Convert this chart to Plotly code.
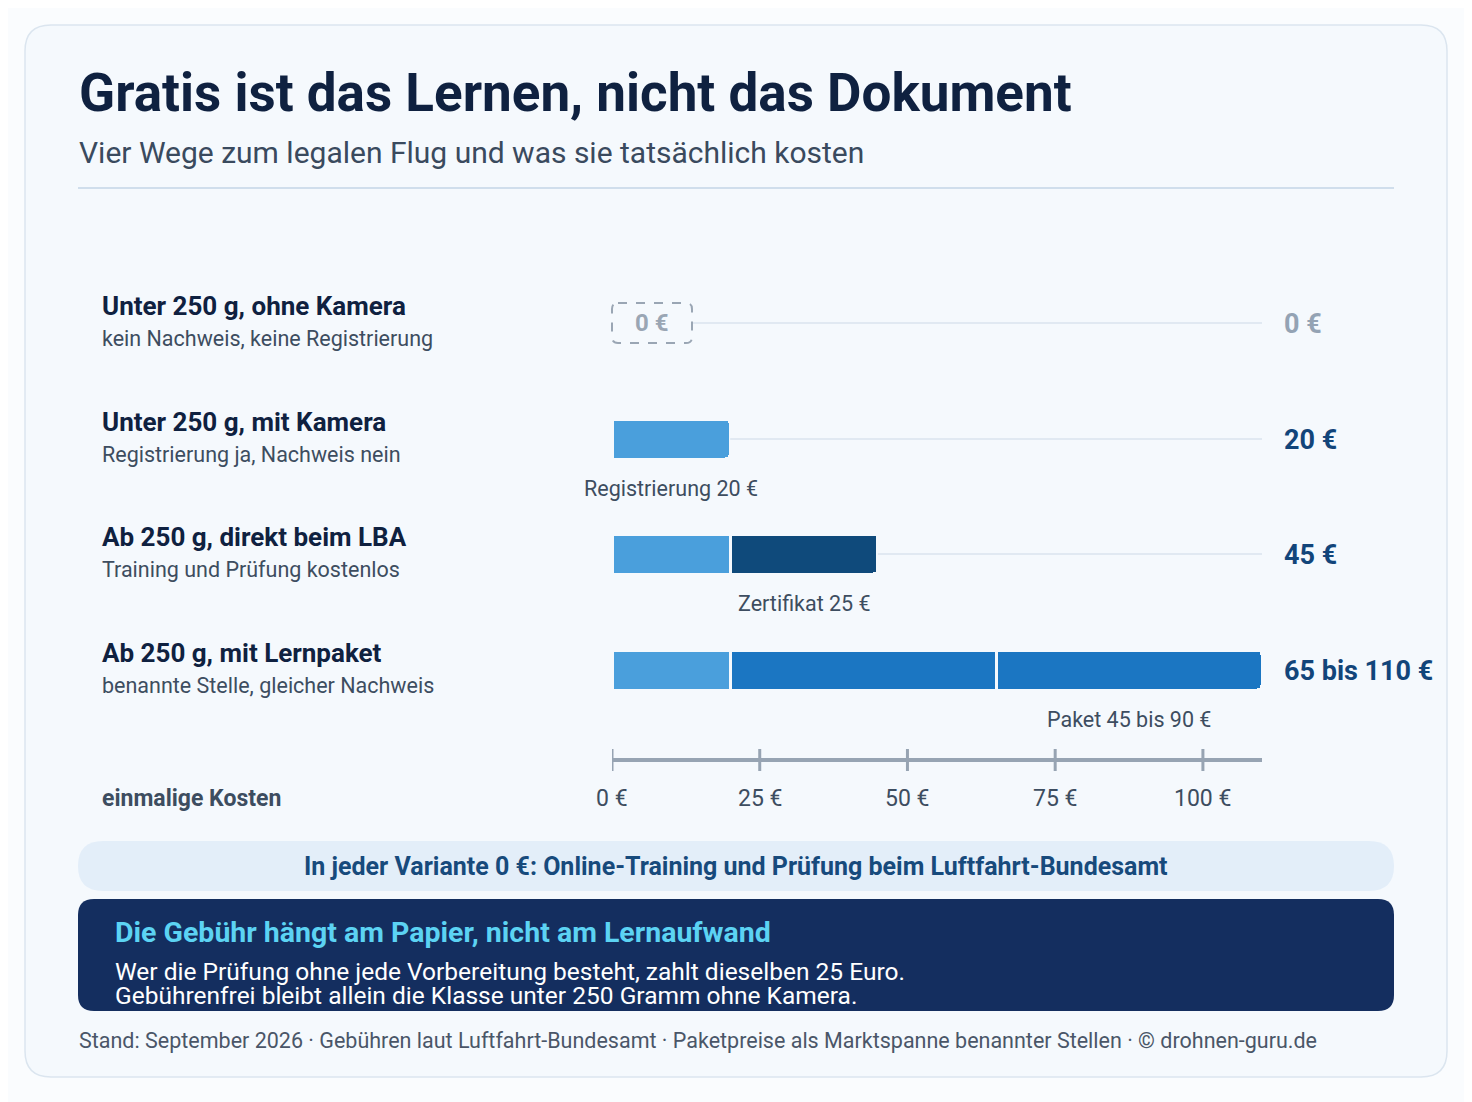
import plotly.graph_objects as go

W, H = 1472, 1102
OFF = 8  # page margin the browser adds around the figure

# data
titles = ["Unter 250 g, ohne Kamera", "Unter 250 g, mit Kamera", "Ab 250 g, direkt beim LBA", "Ab 250 g, mit Lernpaket"]
subtitles = ["kein Nachweis, keine Registrierung", "Registrierung ja, Nachweis nein",
             "Training und Prüfung kostenlos", "benannte Stelle, gleicher Nachweis"]
totals = ["0 €", "20 €", "45 €", "65 bis 110 €"]
registrierung = [0, 20, 20, 20]
zertifikat = [0, 0, 25, 0]
paket_min = [0, 0, 0, 45]
paket_extra = [0, 0, 0, 45]
seg_notes = ["", "Registrierung 20 €", "Zertifikat 25 €", "Paket 45 bis 90 €"]
ticks = [0, 25, 50, 75, 100]
tick_labels = ["0 €", "25 €", "50 €", "75 €", "100 €"]

row_y = [323, 439, 554, 670]
X0, X1 = 612, 1262
XMAX = 110
FONT = "Roboto"
DARK = "#0f2140"
GREY = "#3d4d60"


def rrect(x0, y0, x1, y1, r):
    return (f"M{x0+r},{y0} L{x1-r},{y0} Q{x1},{y0} {x1},{y0+r} L{x1},{y1-r} Q{x1},{y1} {x1-r},{y1} "
            f"L{x0+r},{y1} Q{x0},{y1} {x0},{y1-r} L{x0},{y0+r} Q{x0},{y0} {x0+r},{y0} Z")


def px_path(x0, y0, x1, y1, r):
    # rounded rect in paper coordinates
    fx = lambda v: (v - OFF) / W
    fy = lambda v: 1 - (v - OFF) / H
    rx, ry = r / W, r / H
    a, b, c, d = fx(x0), fy(y0), fx(x1), fy(y1)
    return (f"M{a+rx},{b} L{c-rx},{b} Q{c},{b} {c},{b-ry} L{c},{d+ry} Q{c},{d} {c-rx},{d} "
            f"L{a+rx},{d} Q{a},{d} {a},{d+ry} L{a},{b-ry} Q{a},{b} {a+rx},{b} Z")


fig = go.Figure()

# track lines
for i, y in enumerate(row_y):
    end = registrierung[i] + zertifikat[i] + paket_min[i] + paket_extra[i]
    fig.add_trace(go.Scatter(x=[end, XMAX], y=[y, y], mode="lines",
                             line=dict(color="#e1e9f2", width=2), hoverinfo="skip", showlegend=False))

bar_kw = dict(orientation="h", width=40, hoverinfo="skip", showlegend=False,
              marker_line=dict(color="#f5f9fd", width=3))
fig.add_trace(go.Bar(y=row_y, x=registrierung, marker_color="#4a9fdc", **bar_kw))
fig.add_trace(go.Bar(y=row_y, x=zertifikat, marker_color="#0f4a7b", **bar_kw))
fig.add_trace(go.Bar(y=row_y, x=paket_min, marker_color="#1b76c2", **bar_kw))
fig.add_trace(go.Bar(y=row_y, x=paket_extra, marker_color="#1b76c2", **bar_kw))

shapes = []
ann = []
# card
shapes.append(dict(type="path", path=px_path(25, 25, 1447, 1077, 26), xref="paper", yref="paper",
                   fillcolor="#f5f9fd", line=dict(color="#dbe5ef", width=1.5), layer="below"))
shapes.append(dict(type="line", x0=78, x1=1394, y0=188, y1=188, xref="x2", yref="y2",
                   line=dict(color="#d0deec", width=2)))
ann.append(dict(x=77, y=93, text="<b>Gratis ist das Lernen, nicht das Dokument</b>", xanchor="left",
                font=dict(size=53, color=DARK, family=FONT)))
ann.append(dict(x=77, y=152, text="Vier Wege zum legalen Flug und was sie tatsächlich kosten", xanchor="left",
                font=dict(size=30, color="#3a4a5e", family=FONT)))

for i, y in enumerate(row_y):
    ann.append(dict(x=100, y=y - 17, text=f"<b>{titles[i]}</b>", xanchor="left",
                    font=dict(size=26, color=DARK, family=FONT)))
    ann.append(dict(x=100, y=y + 15, text=subtitles[i], xanchor="left",
                    font=dict(size=21.5, color=GREY, family=FONT)))
    col = "#94a3b4" if i == 0 else "#12457a"
    ann.append(dict(x=1282, y=y + 1, text=f"<b>{totals[i]}</b>", xanchor="left",
                    font=dict(size=27, color=col, family=FONT)))

# segment notes, centred on the segment they describe
note_centres = [0, registrierung[1] / 2, registrierung[2] + zertifikat[2] / 2,
                registrierung[3] + paket_min[3] + paket_extra[3] / 2]
for i in range(1, 4):
    px = X0 + note_centres[i] * (X1 - X0) / XMAX
    ann.append(dict(x=px, y=row_y[i] + 49, text=seg_notes[i],
                    font=dict(size=21.5, color=GREY, family=FONT)))

# dashed 0 € box
shapes.append(dict(type="path", path=rrect(612, 303, 692, 343, 6), xref="x2", yref="y2",
                   fillcolor="#f5f9fd", line=dict(color="#9aa6b4", width=2, dash="dash")))
ann.append(dict(x=652, y=323, text="<b>0 €</b>", font=dict(size=24, color="#9aa6b4", family=FONT)))

# axis
shapes.append(dict(type="line", x0=0, x1=XMAX, y0=760, y1=760, xref="x", yref="y",
                   line=dict(color="#97a4b3", width=4)))
for t, lab in zip(ticks, tick_labels):
    shapes.append(dict(type="line", x0=t, x1=t, y0=749, y1=771, xref="x", yref="y",
                       line=dict(color="#97a4b3", width=3)))
    ann.append(dict(x=t, y=798, text=lab, xref="x", yref="y",
                    font=dict(size=23, color=GREY, family=FONT)))
ann.append(dict(x=100, y=798, text="<b>einmalige Kosten</b>", xanchor="left",
                font=dict(size=23, color=GREY, family=FONT)))

# info pill
shapes.append(dict(type="path", path=rrect(78, 841, 1394, 891, 25), xref="x2", yref="y2",
                   fillcolor="#e3eef9", line=dict(width=0)))
ann.append(dict(x=736, y=866, text="<b>In jeder Variante 0 €: Online-Training und Prüfung beim Luftfahrt-Bundesamt</b>",
                font=dict(size=25, color="#174a7c", family=FONT)))

# dark box
shapes.append(dict(type="path", path=rrect(78, 899, 1394, 1011, 16), xref="x2", yref="y2",
                   fillcolor="#142e5f", line=dict(width=0)))
ann.append(dict(x=113, y=932, text="<b>Die Gebühr hängt am Papier, nicht am Lernaufwand</b>", xanchor="left",
                font=dict(size=28.5, color="#5cd3f3", family=FONT)))
ann.append(dict(x=113, y=971, text="Wer die Prüfung ohne jede Vorbereitung besteht, zahlt dieselben 25 Euro.",
                xanchor="left", font=dict(size=24.5, color="white", family=FONT)))
ann.append(dict(x=113, y=995, text="Gebührenfrei bleibt allein die Klasse unter 250 Gramm ohne Kamera.",
                xanchor="left", font=dict(size=24.5, color="white", family=FONT)))

ann.append(dict(x=77, y=1040, xanchor="left",
                text="Stand: September 2026 · Gebühren laut Luftfahrt-Bundesamt · Paketpreise als Marktspanne benannter Stellen · © drohnen-guru.de",
                font=dict(size=21.5, color="#4a5668", family=FONT)))

for a in ann:
    a.setdefault("xref", "x2")
    a.setdefault("yref", "y2")
    a.update(showarrow=False, yanchor="middle")
    a.setdefault("xanchor", "center")

fig.update_layout(
    width=W, height=H, margin=dict(l=0, r=0, t=0, b=0),
    paper_bgcolor="#fafcfe", plot_bgcolor="rgba(0,0,0,0)",
    barmode="stack", barcornerradius=5,
    xaxis=dict(range=[0, XMAX], domain=[(X0 - OFF) / W, (X1 - OFF) / W], visible=False, fixedrange=True, anchor="y"),
    yaxis=dict(range=[H + OFF, OFF], domain=[0, 1], visible=False, fixedrange=True, anchor="x"),
    xaxis2=dict(range=[OFF, W + OFF], domain=[0, 1], visible=False, anchor="y2", fixedrange=True),
    yaxis2=dict(range=[H + OFF, OFF], domain=[0, 1], visible=False, anchor="x2", fixedrange=True),
    shapes=shapes, annotations=ann,
)
fig.write_html("out.html", config={"displayModeBar": False})
